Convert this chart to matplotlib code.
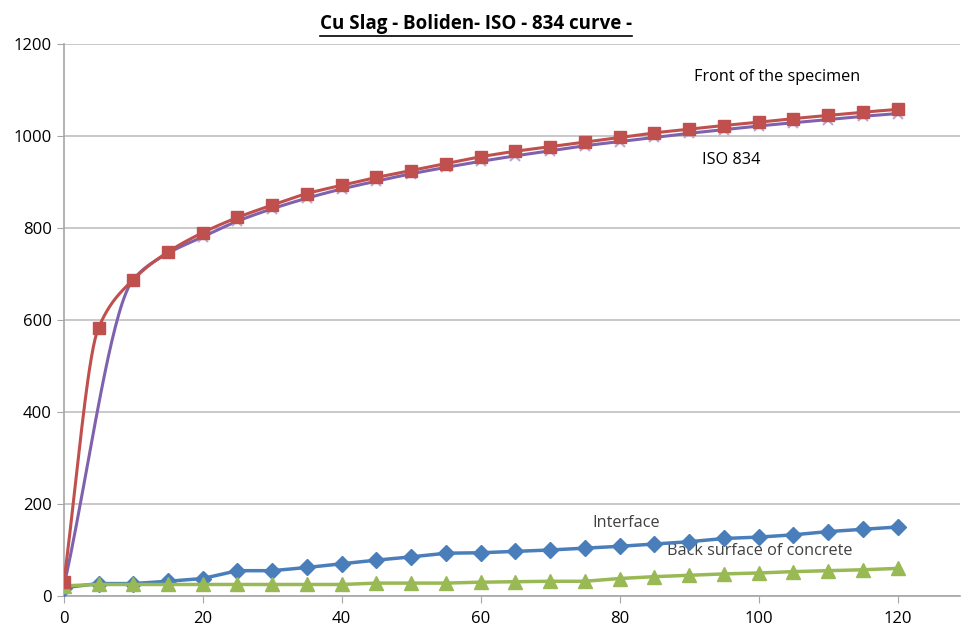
import numpy as np
import matplotlib
matplotlib.use('Agg')
import matplotlib.pyplot as plt
from matplotlib.lines import Line2D

# Time (min) and temperatures (deg C)
time = [0, 5, 10, 15, 20, 25, 30, 35, 40, 45, 50, 55, 60, 65, 70, 75, 80,
        85, 90, 95, 100, 105, 110, 115, 120]
front = [30, 583, 688, 748, 790, 823, 850, 875, 893, 910, 925, 940, 955, 967,
         977, 987, 997, 1007, 1015, 1023, 1030, 1038, 1045, 1052, 1058]
interface = [18, 27, 27, 32, 38, 55, 55, 62, 70, 78, 85, 93, 94, 97, 100,
             104, 108, 113, 118, 125, 128, 133, 140, 145, 150]
back = [22, 25, 25, 25, 25, 25, 25, 25, 25, 28, 28, 28, 30, 31, 32, 32, 38,
        42, 45, 48, 50, 53, 55, 57, 60]
iso_time = [0, 10, 15, 20, 25, 30, 35, 40, 45, 50, 55, 60, 65, 70, 75, 80,
            85, 90, 95, 100, 105, 110, 115, 120]
iso = [20, 688, 745, 781, 815, 842, 865, 885, 902, 918, 932, 945, 957, 968,
       979, 988, 997, 1006, 1014, 1022, 1029, 1036, 1043, 1049]

title = 'Cu Slag - Boliden- ISO - 834 curve -'


def smooth(x, y, n=40):
    # monotone cubic (Fritsch-Carlson) through the points
    x = np.asarray(x, float)
    y = np.asarray(y, float)
    h = np.diff(x)
    d = np.diff(y) / h
    m = np.zeros_like(y)
    for i in range(1, len(x) - 1):
        if d[i - 1] * d[i] > 0:
            w1 = 2 * h[i] + h[i - 1]
            w2 = h[i] + 2 * h[i - 1]
            m[i] = (w1 + w2) / (w1 / d[i - 1] + w2 / d[i])
    m[0] = d[0]
    m[-1] = d[-1]
    xs, ys = [], []
    t = np.linspace(0, 1, n)
    for i in range(len(x) - 1):
        h00 = 2 * t ** 3 - 3 * t ** 2 + 1
        h10 = t ** 3 - 2 * t ** 2 + t
        h01 = -2 * t ** 3 + 3 * t ** 2
        h11 = t ** 3 - t ** 2
        xs.extend(x[i] + t * h[i])
        ys.extend(h00 * y[i] + h10 * h[i] * m[i] + h01 * y[i + 1] + h11 * h[i] * m[i + 1])
    return xs, ys


plt.rcParams['font.family'] = ['Open Sans', 'DejaVu Sans']

fig = plt.figure(figsize=(9.66, 6.30), dpi=100)
ax = fig.add_axes([0.066, 0.054, 0.928, 0.876])

red = '#C0504D'
purple = '#7E62AE'
blue = '#4A7EBB'
green = '#98B954'

sx, sy = smooth(iso_time, iso)
ax.plot(sx, sy, color=purple, linewidth=2.2, zorder=3)
ax.plot(iso_time, iso, linestyle='none', marker='x', markersize=7,
        color='#B9A8D6', markeredgewidth=1.5, zorder=3)

sx, sy = smooth(time, front)
ax.plot(sx, sy, color=red, linewidth=2.2, zorder=4)
ax.plot(time, front, linestyle='none', marker='s', markersize=9,
        color=red, zorder=5)

ax.plot(time, interface, color=blue, linewidth=2.5, marker='D',
        markersize=8, zorder=4)
ax.plot(time, back, color=green, linewidth=2.5, marker='^',
        markersize=10, zorder=4)

ax.set_xlim(0, 129)
ax.set_ylim(0, 1200)
ax.set_xticks(range(0, 121, 20))
ax.set_yticks(range(0, 1201, 200))
ax.yaxis.grid(True, color='#BFBFBF', linewidth=1.2)
ax.set_axisbelow(True)
for s in ['top', 'right']:
    ax.spines[s].set_visible(False)
for s in ['left', 'bottom']:
    ax.spines[s].set_color('#A6A6A6')
    ax.spines[s].set_linewidth(1.2)
ax.tick_params(axis='both', colors='#A6A6A6', labelcolor='black',
               labelsize=12, length=5)
ax.tick_params(axis='x', pad=6)

ax.text(102.7, 1128, 'Front of the specimen', fontsize=11.7,
        ha='center', va='center')
ax.text(96.1, 948, 'ISO 834', fontsize=11.7, ha='center', va='center')
ax.text(81, 159, 'Interface', fontsize=11.7, ha='center', va='center',
        color='#404040')
ax.text(100.1, 98, 'Back surface of concrete', fontsize=11.7,
        ha='center', va='center', color='#404040')

t = fig.text(0.493, 0.962, title, fontsize=13.5, fontweight='bold',
             ha='center', va='center')
fig.canvas.draw()
bb = t.get_window_extent().transformed(fig.transFigure.inverted())
fig.add_artist(Line2D([bb.x0, bb.x1], [bb.y0 - 0.004, bb.y0 - 0.004],
                      transform=fig.transFigure, color='black', linewidth=1.2))

fig.savefig('out.png', dpi=100)
